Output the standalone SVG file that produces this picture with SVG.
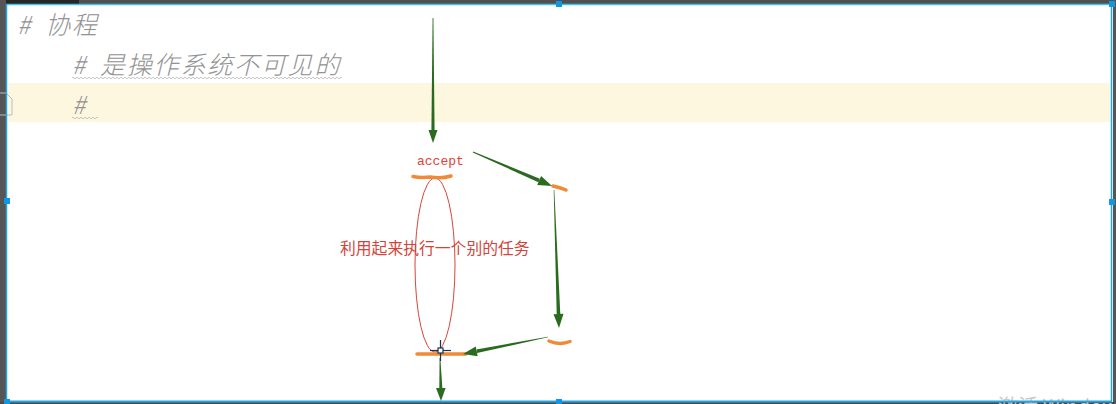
<svg xmlns="http://www.w3.org/2000/svg" width="1116" height="404" viewBox="0 0 1116 404">
<style>
.hdr{font-family:"Noto Sans CJK SC","Liberation Sans",sans-serif;font-style:italic;font-size:25px;font-weight:300;fill:#939393;letter-spacing:1.8px}
.arrow{fill:#2b6b1f}
.mark{fill:none;stroke:#f08a36;stroke-width:3.5;stroke-linecap:round}
.handle{fill:#1296e0}
</style>
<defs>
<pattern id="wave" x="0" y="0" width="4" height="4" patternUnits="userSpaceOnUse">
<path d="M0,2 Q1,0.5 2,2 T4,2" fill="none" stroke="#bdbdbd" stroke-width="0.9"/>
</pattern>
</defs>
<rect width="1116" height="404" fill="#ffffff"/>
<rect x="8" y="83" width="1103" height="39" fill="#fef7e0"/>
<g id="frame">
<rect x="0" y="0" width="1116" height="4" fill="#505050"/>
<rect x="0" y="0" width="79" height="4" fill="#262626"/>
<rect x="0" y="0" width="6" height="404" fill="#555555"/>
<rect x="1113" y="0" width="3" height="404" fill="#555555"/>
<rect x="0" y="402" width="1116" height="2" fill="#4a4a4a"/>
<path d="M0,93 L6,93 L12,99 L12,115 L0,115" fill="none" stroke="#bcbcbc" stroke-width="1"/>
</g>
<g id="watermark">
<text x="998" y="414" font-family="'Noto Sans CJK SC','Liberation Sans',sans-serif" font-size="20" fill="#c8c8c8">激活 Windows</text>
</g>
<g id="frame-border">
<line x1="6" y1="4.5" x2="1112" y2="4.5" stroke="#3ec6f2" stroke-width="1.5"/>
<line x1="6.5" y1="4" x2="6.5" y2="402" stroke="#1fa8e8" stroke-width="1.5"/>
<line x1="1111.5" y1="4" x2="1111.5" y2="402" stroke="#1fa8e8" stroke-width="1.5"/>
<line x1="6" y1="401.5" x2="1112" y2="401.5" stroke="#1fa8e8" stroke-width="2"/>
<rect class="handle" x="556" y="1" width="6" height="6"/>
<rect class="handle" x="1109" y="1" width="6" height="6"/>
<rect class="handle" x="4" y="198" width="6" height="6"/>
<rect class="handle" x="1109" y="199" width="6" height="6"/>
<rect class="handle" x="4" y="399" width="6" height="5"/>
<rect class="handle" x="556" y="399" width="6" height="5"/>
</g>
<g id="heading1"><text class="hdr" y="34"><tspan x="17">#</tspan><tspan x="45">协程</tspan></text></g>
<g id="heading2">
<text class="hdr" y="74"><tspan x="72">#</tspan><tspan x="100">是操作系统不可见的</tspan></text>
<rect x="72" y="77" width="270" height="4" fill="url(#wave)"/>
</g>
<g id="heading3">
<text class="hdr" x="72" y="114">#</text>
<rect x="72" y="117" width="26" height="4" fill="url(#wave)"/>
</g>
<g id="accept">
<text x="417" y="165" font-family="'Liberation Mono',monospace" font-size="13" fill="#d9453c">accept</text>
</g>
<g id="loop">
<ellipse cx="435" cy="265" rx="20" ry="87" fill="none" stroke="#d9453c" stroke-width="1"/>
</g>
<g id="task-label">
<text x="340" y="254" font-family="'Noto Sans CJK SC','Liberation Sans',sans-serif" font-size="15.8" fill="#d2443a">利用起来执行一个别的任务</text>
</g>
<g id="marks">
<path class="mark" d="M413,176.5 Q421,178 430,177 Q441,179 451,176"/>
<path class="mark" d="M553,186 Q560,187.5 566,190"/>
<path class="mark" d="M549,341 Q560,345.5 570,341.5"/>
<path class="mark" d="M417,354 L466,354"/>
</g>
<g id="connectors">
<polygon class="arrow" points="432.6,18 433.4,18 434.6,131 431.4,131"/>
<polygon class="arrow" points="428.5,130 437.5,130 433,143"/>
<polygon class="arrow" points="472.8,152.5 473.2,151.5 539.8,178.8 538.4,182.2"/>
<polygon class="arrow" points="537.2,185.1 541.1,175.9 552,186"/>
<polygon class="arrow" points="553.7,190 554.3,190 560.3,314 556.7,314"/>
<polygon class="arrow" points="553.5,314.2 563.5,313.8 559,328"/>
<polygon class="arrow" points="548,336.7 548,337.3 477.05,353.1 476.35,349.5"/>
<polygon class="arrow" points="475.7,346.4 477.7,356.2 463,354"/>
<polygon class="arrow" points="439.6,358 440.4,358 442.3,388 439.3,388"/>
<polygon class="arrow" points="436,388 445.6,388 441,401"/>
</g>
<g id="cursor" stroke="#173552" stroke-width="1.2" fill="none">
<line x1="430" y1="350.5" x2="451" y2="350.5"/>
<line x1="440.5" y1="340" x2="440.5" y2="361"/>
<rect x="438" y="348" width="5" height="5" fill="#ffffff"/>
</g>
</svg>
